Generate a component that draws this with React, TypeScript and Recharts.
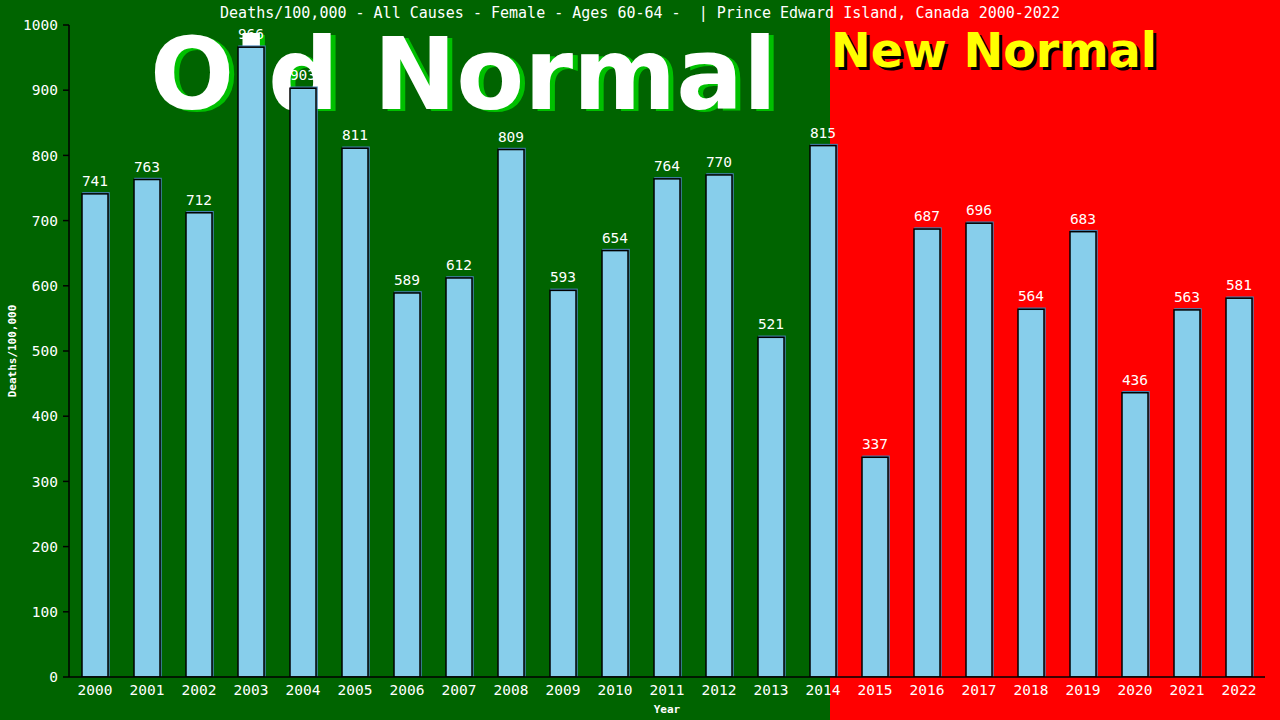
import React from 'react';
import { BarChart, Bar, XAxis, YAxis, LabelList } from 'recharts';

// Year categories and deaths per 100,000 (female, ages 60-64)
const years = [
  '2000', '2001', '2002', '2003', '2004', '2005', '2006', '2007', '2008', '2009', '2010', '2011',
  '2012', '2013', '2014', '2015', '2016', '2017', '2018', '2019', '2020', '2021', '2022',
];
const deaths = [
  741, 763, 712, 966, 903, 811, 589, 612, 809, 593, 654, 764,
  770, 521, 815, 337, 687, 696, 564, 683, 436, 563, 581,
];
const yTicks = [0, 100, 200, 300, 400, 500, 600, 700, 800, 900, 1000];

const data = years.map((year, i) => ({ year, deaths: deaths[i] }));

const MONO = '"DejaVu Sans Mono", "Liberation Mono", monospace';
const SANS = '"DejaVu Sans", sans-serif';

// bar with a steel-blue outline nudged up/right behind the black outlined box
const ShadowBar = (props: any) => {
  const { x, y, width, height } = props;
  if (!height || height <= 0) return null;
  return (
    <g>
      <rect x={x + 1} y={y - 1} width={width} height={height} fill="none" stroke="#4682b4" strokeWidth={1.5} />
      <rect x={x} y={y} width={width} height={height} fill="#87ceeb" stroke="#000" strokeWidth={1.5} />
    </g>
  );
};

const App: React.FC = () => {
  return (
    <div
      style={{
        position: 'absolute',
        left: 0,
        top: 0,
        width: 1280,
        height: 720,
        background: 'linear-gradient(to right, #006400 0px, #006400 830px, #ff0000 830px, #ff0000 1280px)',
        overflow: 'hidden',
      }}
    >
      {/* big captions behind the bars */}
      <svg width={1280} height={720} style={{ position: 'absolute', left: 0, top: 0 }}>
        <text x={155} y={111} fontFamily={SANS} fontWeight="bold" fontSize={99} fill="#00c000">Old Normal</text>
        <text x={150} y={109} fontFamily={SANS} fontWeight="bold" fontSize={99} fill="#ffffff">Old Normal</text>
        <text x={834} y={70} fontFamily={SANS} fontWeight="bold" fontSize={47.5} fill="#000000">New Normal</text>
        <text x={831} y={67} fontFamily={SANS} fontWeight="bold" fontSize={47.5} fill="#ffff00">New Normal</text>
      </svg>

      <div style={{ position: 'absolute', left: 0, top: 0 }}>
        <BarChart
          width={1280}
          height={720}
          data={data}
          margin={{ top: 25, right: 15, bottom: 13, left: 0 }}
          barCategoryGap="25%"
        >
          <text
            x={640}
            y={18}
            textAnchor="middle"
            fill="#fff"
            fontFamily={MONO}
            fontSize={15}
            style={{ whiteSpace: 'pre' }}
          >
            {'Deaths/100,000 - All Causes - Female - Ages 60-64 -  | Prince Edward Island, Canada 2000-2022'}
          </text>
          <XAxis
            dataKey="year"
            height={30}
            tickLine={false}
            axisLine={{ stroke: '#000', strokeWidth: 1.5 }}
            tick={{ fill: '#fff', fontFamily: MONO, fontSize: 14.5 }}
            tickMargin={2}
            interval={0}
            label={{ value: 'Year', position: 'insideBottom', offset: -6, fill: '#fff', fontFamily: MONO, fontSize: 11, fontWeight: 'bold' }}
          />
          <YAxis
            width={69}
            domain={[0, 1000]}
            ticks={yTicks}
            tickSize={6}
            tickMargin={5}
            interval={0}
            allowDataOverflow
            axisLine={{ stroke: '#000', strokeWidth: 1.5 }}
            tickLine={{ stroke: '#000', strokeWidth: 1.5 }}
            tick={{ fill: '#fff', fontFamily: MONO, fontSize: 14.5 }}
            label={{ value: 'Deaths/100,000', angle: -90, position: 'insideLeft', offset: 12, fill: '#fff', fontFamily: MONO, fontSize: 11, fontWeight: 'bold', style: { textAnchor: 'middle' } }}
          />
          <YAxis
            yAxisId="frame"
            orientation="right"
            width={0}
            domain={[0, 1000]}
            tick={false}
            tickLine={false}
            axisLine={{ stroke: '#000', strokeWidth: 1.5 }}
          />
          <Bar dataKey="deaths" shape={<ShadowBar />} isAnimationActive={false}>
            <LabelList dataKey="deaths" position="top" offset={8} fill="#fff" fontFamily={MONO} fontSize={14.5} />
          </Bar>
        </BarChart>
      </div>
    </div>
  );
};

export default App;
